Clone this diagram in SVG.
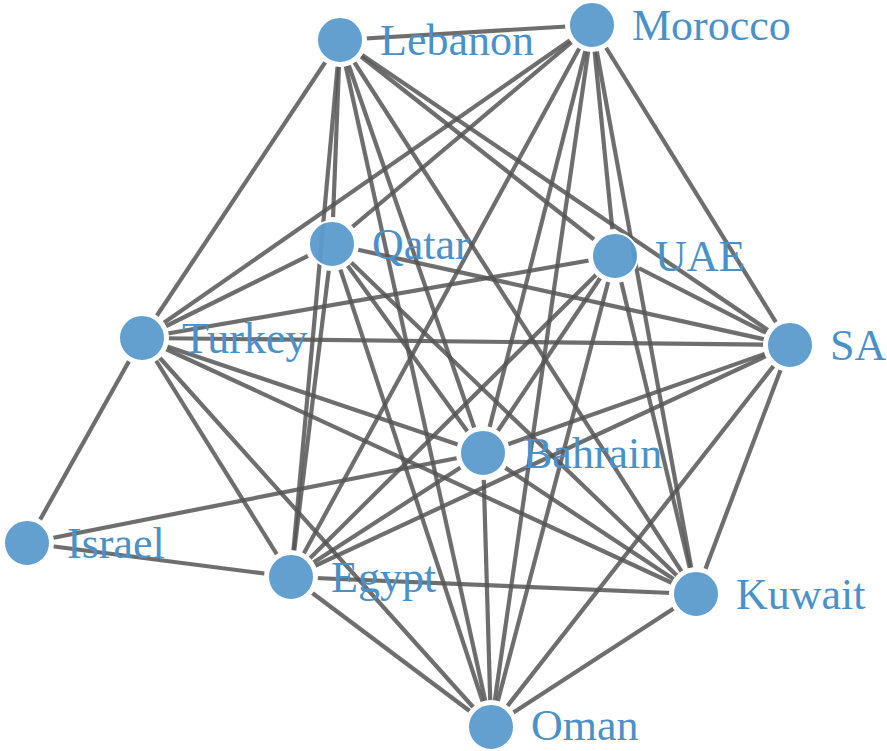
<svg xmlns="http://www.w3.org/2000/svg" width="887" height="751" viewBox="0 0 887 751">
<style>
.link{stroke:#555;stroke-opacity:0.85;stroke-width:4.2;fill:none}
.node circle{fill:#5b9bcc;fill-opacity:0.95;stroke:#fff;stroke-width:2}
.node text{font-family:"Liberation Serif","Times New Roman",serif;font-size:44px;fill:#4b91c9}
</style>
<defs>
<mask id="mA" maskUnits="userSpaceOnUse" x="0" y="0" width="887" height="751">
<rect x="0" y="0" width="887" height="751" fill="#fff"/>
<g fill="#000">
<circle cx="340" cy="40" r="27"/><circle cx="592" cy="25" r="27"/><circle cx="332" cy="244" r="27"/>
<circle cx="615" cy="256" r="27"/><circle cx="142" cy="338" r="27"/><circle cx="790" cy="345" r="27"/>
<circle cx="483" cy="453" r="27"/><circle cx="27" cy="543" r="27"/><circle cx="291" cy="577" r="27"/>
<circle cx="696" cy="594" r="27"/><circle cx="491" cy="727" r="27"/>
</g>
</mask>
<mask id="mB" maskUnits="userSpaceOnUse" x="0" y="0" width="887" height="751">
<rect x="0" y="0" width="887" height="751" fill="#fff"/>
<g fill="#000">
<circle cx="340" cy="40" r="27"/><circle cx="592" cy="25" r="27"/>
<circle cx="142" cy="338" r="27"/><circle cx="790" cy="345" r="27"/>
<circle cx="483" cy="453" r="27"/><circle cx="27" cy="543" r="27"/><circle cx="291" cy="577" r="27"/>
<circle cx="696" cy="594" r="27"/><circle cx="491" cy="727" r="27"/>
</g>
</mask>
</defs>
<g id="links">
<g mask="url(#mA)">
<line class="link" x1="340" y1="40" x2="592" y2="25"/>
<line class="link" x1="340" y1="40" x2="332" y2="244"/>
<line class="link" x1="340" y1="40" x2="615" y2="256"/>
<line class="link" x1="340" y1="40" x2="142" y2="338"/>
<line class="link" x1="340" y1="40" x2="483" y2="453"/>
<line class="link" x1="340" y1="40" x2="696" y2="594"/>
<line class="link" x1="340" y1="40" x2="491" y2="727"/>
<line class="link" x1="592" y1="25" x2="332" y2="244"/>
<line class="link" x1="592" y1="25" x2="615" y2="256"/>
<line class="link" x1="592" y1="25" x2="142" y2="338"/>
<line class="link" x1="592" y1="25" x2="790" y2="345"/>
<line class="link" x1="592" y1="25" x2="483" y2="453"/>
<line class="link" x1="592" y1="25" x2="291" y2="577"/>
<line class="link" x1="592" y1="25" x2="491" y2="727"/>
<line class="link" x1="332" y1="244" x2="142" y2="338"/>
<line class="link" x1="332" y1="244" x2="790" y2="345"/>
<line class="link" x1="332" y1="244" x2="483" y2="453"/>
<line class="link" x1="332" y1="244" x2="291" y2="577"/>
<line class="link" x1="332" y1="244" x2="696" y2="594"/>
<line class="link" x1="332" y1="244" x2="491" y2="727"/>
<line class="link" x1="615" y1="256" x2="142" y2="338"/>
<line class="link" x1="615" y1="256" x2="790" y2="345"/>
<line class="link" x1="615" y1="256" x2="483" y2="453"/>
<line class="link" x1="615" y1="256" x2="291" y2="577"/>
<line class="link" x1="615" y1="256" x2="696" y2="594"/>
<line class="link" x1="615" y1="256" x2="491" y2="727"/>
<line class="link" x1="142" y1="338" x2="790" y2="345"/>
<line class="link" x1="142" y1="338" x2="483" y2="453"/>
<line class="link" x1="142" y1="338" x2="291" y2="577"/>
<line class="link" x1="142" y1="338" x2="696" y2="594"/>
<line class="link" x1="142" y1="338" x2="491" y2="727"/>
<line class="link" x1="142" y1="338" x2="27" y2="543"/>
<line class="link" x1="790" y1="345" x2="483" y2="453"/>
<line class="link" x1="790" y1="345" x2="291" y2="577"/>
<line class="link" x1="790" y1="345" x2="696" y2="594"/>
<line class="link" x1="790" y1="345" x2="491" y2="727"/>
<line class="link" x1="483" y1="453" x2="291" y2="577"/>
<line class="link" x1="483" y1="453" x2="696" y2="594"/>
<line class="link" x1="483" y1="453" x2="491" y2="727"/>
<line class="link" x1="483" y1="453" x2="27" y2="543"/>
<line class="link" x1="291" y1="577" x2="696" y2="594"/>
<line class="link" x1="291" y1="577" x2="491" y2="727"/>
<line class="link" x1="291" y1="577" x2="27" y2="543"/>
<line class="link" x1="696" y1="594" x2="491" y2="727"/>
</g>
<g mask="url(#mB)">
<line class="link" x1="340" y1="40" x2="291" y2="577"/>
<line class="link" x1="592" y1="25" x2="696" y2="594"/>
<line class="link" x1="340" y1="40" x2="790" y2="345"/>
</g>
</g>
<g id="node-lebanon" class="node"><circle cx="340" cy="40" r="23"/><text x="380" y="55">Lebanon</text></g>
<g id="node-morocco" class="node"><circle cx="592" cy="25" r="23"/><text x="632" y="40">Morocco</text></g>
<g id="node-qatar" class="node"><circle cx="332" cy="244" r="23"/><text x="372" y="259">Qatar</text></g>
<g id="node-uae" class="node"><circle cx="615" cy="256" r="23"/><text x="655" y="271">UAE</text></g>
<g id="node-turkey" class="node"><circle cx="142" cy="338" r="23"/><text x="182" y="353">Turkey</text></g>
<g id="node-sa" class="node"><circle cx="790" cy="345" r="23"/><text x="830" y="360">SA</text></g>
<g id="node-bahrain" class="node"><circle cx="483" cy="453" r="23"/><text x="523" y="468">Bahrain</text></g>
<g id="node-israel" class="node"><circle cx="27" cy="543" r="23"/><text x="67" y="558">Israel</text></g>
<g id="node-egypt" class="node"><circle cx="291" cy="577" r="23"/><text x="331" y="592">Egypt</text></g>
<g id="node-kuwait" class="node"><circle cx="696" cy="594" r="23"/><text x="736" y="609">Kuwait</text></g>
<g id="node-oman" class="node"><circle cx="491" cy="727" r="23"/><text x="531" y="740">Oman</text></g>
</svg>
